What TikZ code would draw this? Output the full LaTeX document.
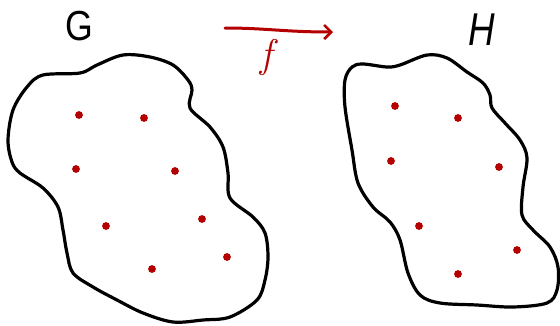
\documentclass[tikz,border=0pt]{standalone}
\usepackage{fontspec}
\setsansfont{Liberation Sans}
\usetikzlibrary{arrows.meta}
\definecolor{myred}{RGB}{180,0,0}
\begin{document}
\begin{tikzpicture}[x=1pt,y=-1pt,
  blob/.style={draw=black,line width=3.2pt,line join=round},
  pt/.style={fill=myred},
  lbl/.style={inner sep=0pt,font=\sffamily\fontsize{42}{42}\selectfont}]
\useasboundingbox (0,0) rectangle (560,325);
% left blob G
\draw[blob] plot[smooth cycle,tension=0.55] coordinates {
 (8,140) (13,110) (27,87) (43,75) (80,73) (97,65) (123,55) (150,57) (173,65)
 (188,80) (192,90) (190,108) (210,127) (223,147) (228,173) (230,198) (253,217)
 (265,233) (268,257) (265,280) (257,300) (230,317) (203,320) (173,322) (143,313)
 (117,300) (93,287) (73,273) (67,253) (63,230) (58,207) (43,188) (20,173) (12,162)};
% right blob H
\draw[blob] plot[smooth cycle,tension=0.55] coordinates {
 (352,67) (363,64) (387,67) (400,65) (427,55) (447,58) (467,72) (483,83) (490,95)
 (492,108) (505,123) (520,140) (527,158) (523,187) (522,215) (533,230) (550,247)
 (558,267) (557,290) (547,303) (513,307) (477,305) (440,303) (420,295) (408,273)
 (400,240) (390,222) (373,207) (358,183) (352,150) (345,107) (345,80)};
% dots
\foreach \p in {(79,115),(144,118),(76,169),(175,171),(106,226),(202,219),(227,257),(152,269),
 (395,106),(458,118),(391,161),(499,167),(419,226),(517,250),(458,274)}
  \fill[pt] \p circle (3.9);
% labels
\node[lbl,xscale=0.85] (G) at (79,26) {G};
\node[lbl,xscale=0.8,font=\sffamily\itshape\fontsize{46}{46}\selectfont] (H) at (482,30) {H};
% arrow
\coordinate (fs) at (225,28);
\coordinate (fe) at (333,32);
\draw[myred,line width=3pt,line cap=round,-{Straight Barb[length=7pt,width=14pt,line width=2.6pt]}]
  (fs) .. controls (265,28) and (285,32) .. (fe);
\node[inner sep=0pt,text=myred,font=\itshape\fontsize{40}{40}\selectfont] (f) at (266,57) {f};
\end{tikzpicture}
\end{document}
